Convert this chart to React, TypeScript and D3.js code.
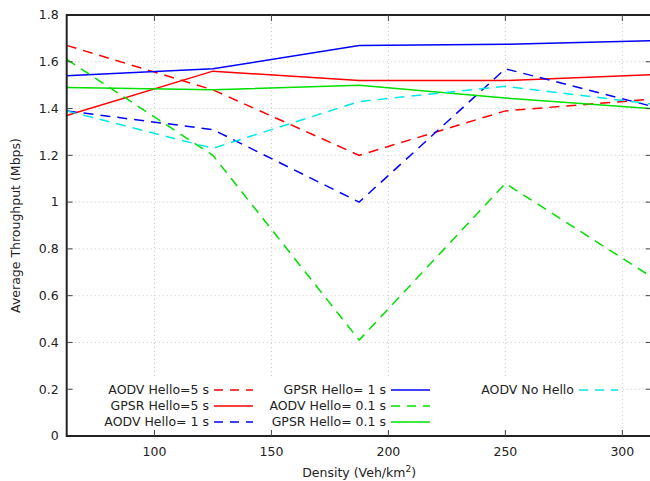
import React, { useEffect, useRef } from "react";
import * as d3 from "d3";

const densities = [62.5, 125, 187.5, 250, 312.5];
const aodvHello5 = [1.67, 1.48, 1.2, 1.39, 1.44];
const gpsrHello5 = [1.37, 1.56, 1.52, 1.52, 1.545];
const aodvHello1 = [1.39, 1.31, 1.0, 1.57, 1.41];
const gpsrHello1 = [1.54, 1.57, 1.67, 1.675, 1.69];
const aodvHello01 = [1.61, 1.2, 0.41, 1.08, 0.68];
const gpsrHello01 = [1.49, 1.48, 1.5, 1.445, 1.4];
const aodvNoHello = [1.39, 1.23, 1.43, 1.495, 1.42];

const seriesNames = [
  "AODV Hello=5 s",
  "GPSR Hello=5 s",
  "AODV Hello= 1 s",
  "GPSR Hello= 1 s",
  "AODV Hello= 0.1 s",
  "GPSR Hello= 0.1 s",
  "AODV No Hello",
];
const seriesValues = [aodvHello5, gpsrHello5, aodvHello1, gpsrHello1, aodvHello01, gpsrHello01, aodvNoHello];
const seriesColors = ["#ff0000", "#ff0000", "#0000ff", "#0000ff", "#00e000", "#00e000", "#00e8e8"];
const seriesDashed = [true, false, true, false, true, false, true];

const xTicks = [100, 150, 200, 250, 300];
const yTicks = [0, 0.2, 0.4, 0.6, 0.8, 1, 1.2, 1.4, 1.6, 1.8];

export default function App() {
  const ref = useRef<SVGSVGElement>(null);
  useEffect(() => {
    const svg = d3.select(ref.current);
    svg.selectAll("*").remove();
    const left = 66.7, top = 15, bottom = 436, right = 651.6;
    const x = d3.scaleLinear().domain([62.5, 312.5]).range([left, right]);
    const y = d3.scaleLinear().domain([0, 1.8]).range([bottom, top]);
    const font = "DejaVu Sans, sans-serif";

    svg.append("defs").append("clipPath").attr("id", "clip")
      .append("rect").attr("x", left).attr("y", top).attr("width", right - left).attr("height", bottom - top);

    // grid
    const g = svg.append("g");
    yTicks.slice(1, -1).forEach((t) => {
      g.append("line").attr("x1", left).attr("x2", right).attr("y1", y(t)).attr("y2", y(t))
        .attr("stroke", "#c8c8c8").attr("stroke-width", 1).attr("stroke-dasharray", "1,3");
    });
    xTicks.forEach((t) => {
      g.append("line").attr("x1", x(t)).attr("x2", x(t)).attr("y1", top).attr("y2", bottom)
        .attr("stroke", "#c8c8c8").attr("stroke-width", 1).attr("stroke-dasharray", "1,3");
    });

    // legend background
    svg.append("rect").attr("x", 72).attr("y", 379).attr("width", 548).attr("height", 52).attr("fill", "#fff");

    // lines
    const line = d3.line<number>().x((_, i) => x(densities[i])).y((d) => y(d));
    const lg = svg.append("g").attr("clip-path", "url(#clip)");
    seriesValues.forEach((vals, i) => {
      lg.append("path").attr("d", line(vals) as string).attr("fill", "none")
        .attr("stroke", seriesColors[i]).attr("stroke-width", 1.5)
        .attr("stroke-dasharray", seriesDashed[i] ? "10,7" : null);
    });

    // frame
    svg.append("rect").attr("x", left).attr("y", top).attr("width", right - left).attr("height", bottom - top)
      .attr("fill", "none").attr("stroke", "#222").attr("stroke-width", 2);

    // ticks
    const tk = svg.append("g").attr("stroke", "#444").attr("stroke-width", 1);
    yTicks.slice(1, -1).forEach((t) => {
      tk.append("line").attr("x1", left).attr("x2", left + 6).attr("y1", y(t)).attr("y2", y(t));
      tk.append("line").attr("x1", right - 6).attr("x2", right).attr("y1", y(t)).attr("y2", y(t));
    });
    xTicks.forEach((t) => {
      tk.append("line").attr("x1", x(t)).attr("x2", x(t)).attr("y1", bottom).attr("y2", bottom - 6);
      tk.append("line").attr("x1", x(t)).attr("x2", x(t)).attr("y1", top).attr("y2", top + 6);
    });

    // tick labels
    yTicks.forEach((t) => {
      svg.append("text").attr("x", left - 8).attr("y", y(t)).attr("dy", "0.35em")
        .attr("text-anchor", "end").attr("font-family", font).attr("font-size", 12.5).attr("fill", "#222")
        .text(d3.format("~g")(t));
    });
    xTicks.forEach((t) => {
      svg.append("text").attr("x", x(t)).attr("y", 456)
        .attr("text-anchor", "middle").attr("font-family", font).attr("font-size", 12.5).attr("fill", "#222")
        .text(String(t));
    });

    // axis labels
    svg.append("text").attr("transform", `translate(20,${(top + bottom) / 2}) rotate(-90)`)
      .attr("text-anchor", "middle").attr("font-family", font).attr("font-size", 12.5).attr("fill", "#222")
      .text("Average Throughput (Mbps)");
    const xl = svg.append("text").attr("x", x(187.5)).attr("y", 477)
      .attr("text-anchor", "middle").attr("font-family", font).attr("font-size", 12.5).attr("fill", "#222");
    xl.append("tspan").text("Density (Veh/km");
    xl.append("tspan").attr("dy", -5).attr("font-size", 9).text("2");
    xl.append("tspan").attr("dy", 5).text(")");

    // legend
    const colTextRight = [209, 386, 574];
    const rowY = [390, 406, 422];
    seriesNames.forEach((name, i) => {
      const col = Math.floor(i / 3), row = i % 3;
      const tx = colTextRight[col], ty = rowY[row];
      svg.append("text").attr("x", tx).attr("y", ty).attr("dy", "0.35em").attr("text-anchor", "end")
        .attr("font-family", font).attr("font-size", 12.5).attr("fill", "#222").text(name);
      svg.append("line").attr("x1", tx + 5).attr("x2", tx + 44).attr("y1", ty).attr("y2", ty)
        .attr("stroke", seriesColors[i]).attr("stroke-width", 1.5)
        .attr("stroke-dasharray", seriesDashed[i] ? "9,7" : null);
    });
  }, []);
  return (
    <svg ref={ref} width={650} height={481} style={{ position: "absolute", left: 0, top: 0, background: "#fff" }} />
  );
}
